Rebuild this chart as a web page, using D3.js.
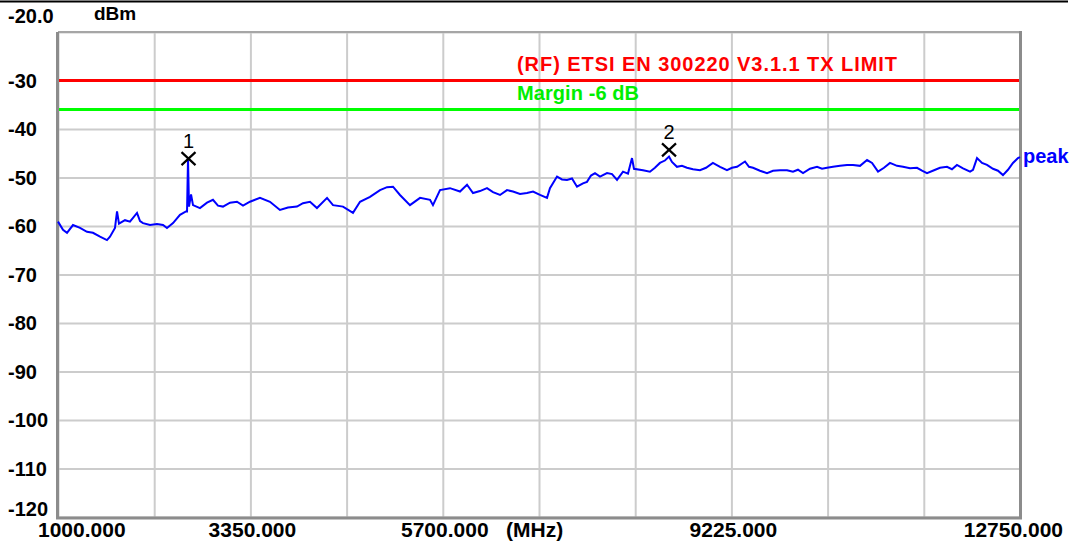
<!DOCTYPE html>
<html><head><meta charset="utf-8">
<script src="https://cdn.jsdelivr.net/npm/d3@7"></script>
<style>
html,body{margin:0;padding:0;background:#fff;}
svg{display:block;}
text{font-family:"Liberation Sans",Arial,sans-serif;font-weight:bold;}
</style></head>
<body>
<svg id="c" width="1072" height="544"></svg>
<script>
// ---- data ----
const freqMHz = [1000,1061,1110,1183,1269,1354,1427,1513,1598,1635,1696,1721,1745,1818,1879,1965,2002,2038,2124,2209,2283,2331,2405,2490,2563,2576,2588,2600,2625,2649,2734,2820,2893,2954,3015,3101,3186,3260,3345,3467,3589,3711,3809,3919,3992,4078,4163,4286,4359,4481,4603,4689,4811,4933,5019,5092,5177,5299,5422,5544,5580,5666,5788,5910,5996,6069,6154,6240,6313,6399,6484,6557,6643,6728,6802,6887,6973,7009,7095,7156,7217,7278,7339,7412,7461,7510,7559,7620,7706,7767,7828,7901,7962,8011,8035,8145,8230,8291,8352,8413,8463,8499,8560,8621,8682,8756,8841,8915,8999,9086,9171,9232,9294,9391,9440,9489,9574,9660,9733,9819,9904,9977,10038,10100,10185,10271,10332,10393,10466,10552,10637,10711,10796,10882,10943,11016,11089,11162,11248,11321,11407,11492,11553,11614,11700,11773,11858,11919,11980,12054,12140,12176,12225,12286,12347,12420,12481,12542,12603,12664,12725,12750];
const peakDBm = [-59.1,-60.8,-61.4,-59.8,-60.4,-61.2,-61.4,-62.2,-62.9,-62.2,-60.4,-57.0,-59.5,-58.8,-59.1,-57.3,-59.0,-59.4,-59.8,-59.6,-59.8,-60.4,-59.4,-57.7,-57.0,-57.0,-46.1,-56.0,-53.5,-55.7,-56.3,-55.2,-54.6,-55.8,-56.0,-55.2,-55.0,-55.8,-55.0,-54.2,-55.0,-56.7,-56.2,-56.0,-55.3,-55.0,-56.3,-54.2,-55.7,-56.0,-57.3,-55.0,-54.0,-52.6,-52.0,-51.9,-53.6,-55.7,-54.2,-54.6,-55.7,-52.6,-52.2,-52.9,-51.5,-53.2,-52.8,-52.2,-53.0,-53.6,-52.6,-52.9,-53.4,-53.2,-52.9,-53.6,-54.2,-52.2,-49.8,-50.4,-50.5,-50.2,-51.9,-51.2,-50.9,-49.6,-49.1,-49.8,-49.1,-49.3,-50.5,-48.8,-49.2,-46.0,-48.2,-48.5,-48.8,-48.0,-47.0,-46.5,-45.7,-46.8,-47.8,-47.6,-48.0,-48.3,-48.5,-48.0,-47.0,-47.8,-48.5,-48.0,-47.8,-46.7,-47.8,-48.0,-48.6,-49.1,-48.6,-48.5,-48.5,-48.8,-48.4,-49.1,-48.2,-47.8,-48.2,-48.0,-47.8,-47.6,-47.4,-47.4,-47.6,-46.4,-47.0,-48.8,-48.0,-47.0,-47.6,-47.8,-48.1,-48.0,-48.6,-49.1,-48.5,-48.0,-47.8,-48.3,-47.4,-48.1,-48.8,-48.4,-46.0,-47.0,-47.4,-48.2,-48.6,-49.5,-48.4,-47.0,-46.0,-45.8];
const yTickValues = [-20,-30,-40,-50,-60,-70,-80,-90,-100,-110,-120];
const yTickLabels = ["-20.0","-30","-40","-50","-60","-70","-80","-90","-100","-110","-120"];
const xGridValues = [1000,2175,3350,4525,5700,6875,8050,9225,10400,11575,12750];
const xTickValues = [1000,3350,5700,9225,12750];
const xTickLabels = ["1000.000","3350.000","5700.000","9225.000","12750.000"];
const limitDBm = -30, marginDBm = -36;
const limitLabel = "(RF) ETSI EN 300220 V3.1.1 TX LIMIT";
const marginLabel = "Margin -6 dB";
const markerNames = ["1","2"];
const markerFreq = [2594,8463];
const markerDBm = [-46.1,-44.3];

// ---- layout ----
const L=58,R=1020,T=32,B=517;
const svg=d3.select("#c");
const x=d3.scaleLinear().domain([1000,12750]).range([L,R]);
const y=d3.scaleLinear().domain([-120,-20]).range([B,T]);

// top black rule
svg.append("line").attr("x1",0).attr("x2",1068).attr("y1",1.5).attr("y2",1.5).attr("stroke","#000").attr("stroke-width",2);

// grid via axes
const gy=svg.append("g").attr("transform",`translate(${L},0)`)
  .call(d3.axisLeft(y).tickValues(yTickValues).tickSize(-(R-L)).tickFormat(""));
const gx=svg.append("g").attr("transform",`translate(0,${B})`)
  .call(d3.axisBottom(x).tickValues(xGridValues).tickSize(-(B-T)).tickFormat(""));
[gy,gx].forEach(g=>{g.select(".domain").remove();g.selectAll("line").attr("stroke","#cccccc").attr("stroke-width",2);});

// frame
svg.append("line").attr("x1",L).attr("x2",R).attr("y1",T).attr("y2",T).attr("stroke","#a6a6a6").attr("stroke-width",2);
svg.append("line").attr("x1",L-0.5).attr("x2",L-0.5).attr("y1",T).attr("y2",B+2).attr("stroke","#8c8c8c").attr("stroke-width",3);
svg.append("line").attr("x1",R+0.5).attr("x2",R+0.5).attr("y1",T-1).attr("y2",B+2).attr("stroke","#8c8c8c").attr("stroke-width",3);
svg.append("line").attr("x1",L-2).attr("x2",R+2).attr("y1",B+1).attr("y2",B+1).attr("stroke","#8c8c8c").attr("stroke-width",3);

// limit & margin
svg.append("line").attr("x1",L+1).attr("x2",R-1).attr("y1",y(limitDBm)).attr("y2",y(limitDBm)).attr("stroke","#ff0000").attr("stroke-width",3);
svg.append("line").attr("x1",L+1).attr("x2",R-1).attr("y1",y(marginDBm)).attr("y2",y(marginDBm)).attr("stroke","#00ff00").attr("stroke-width",3);
svg.append("text").attr("x",517).attr("y",y(limitDBm)-10).attr("fill","#ff0000").style("font-size","20px").attr("textLength",380).text(limitLabel);
svg.append("text").attr("x",517).attr("y",y(marginDBm)-10).attr("fill","#00ee00").style("font-size","20px").attr("textLength",122).text(marginLabel);

// trace
const pts=freqMHz.map((f,i)=>[f,peakDBm[i]]);
svg.append("path").datum(pts).attr("fill","none").attr("stroke","#0000ff").attr("stroke-width",2)
  .attr("stroke-linejoin","miter")
  .attr("d",d3.line().x(d=>x(d[0])).y(d=>y(d[1])));
svg.append("text").attr("x",R+3).attr("y",y(peakDBm[peakDBm.length-1])+6).attr("fill","#0000ff").style("font-size","20px").text("peak");

// markers
markerNames.forEach((n,i)=>{
  const cx=x(markerFreq[i]), cy=y(markerDBm[i]);
  svg.append("path").attr("d",`M${cx-7},${cy-6.5}L${cx+7},${cy+6.5}M${cx+7},${cy-6.5}L${cx-7},${cy+6.5}`)
    .attr("stroke","#000").attr("stroke-width",2.2);
  svg.append("text").attr("x",cx).attr("y",cy-11).attr("text-anchor","middle").style("font-weight","normal").style("font-size","20px").attr("fill","#000").text(n);
});

// y labels
yTickValues.forEach((v,i)=>{
  let yy=y(v)+7;
  if(v===-20) yy=23;
  if(v===-120) yy=y(v)-1;
  svg.append("text").attr("x",8).attr("y",yy).style("font-size","20px").attr("fill","#000").text(yTickLabels[i]);
});
svg.append("text").attr("x",94).attr("y",20).style("font-size","19px").attr("fill","#000").text("dBm");

// x labels
xTickValues.forEach((v,i)=>{
  let xx=x(v)+2, anchor="middle";
  if(i===0){xx=x(v)-20;anchor="start";}
  if(i===xTickValues.length-1){xx=x(v)+43;anchor="end";}
  svg.append("text").attr("x",xx).attr("y",537).attr("text-anchor",anchor).style("font-size","21px").attr("fill","#000").text(xTickLabels[i]);
});
svg.append("text").attr("x",506).attr("y",537).style("font-size","21px").attr("fill","#000").text("(MHz)");
</script>
</body></html>
